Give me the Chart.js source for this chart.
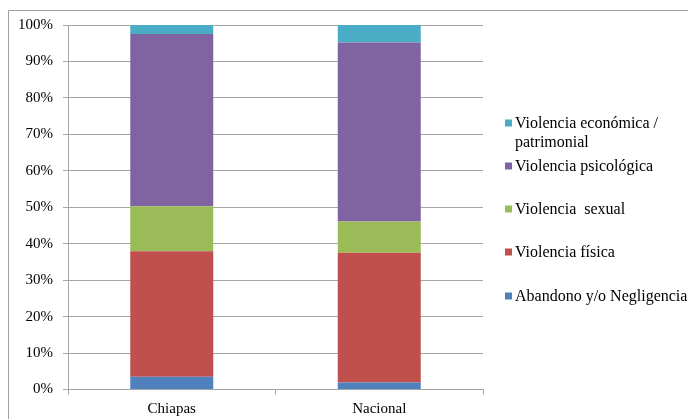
<!DOCTYPE html>
<html>
<head>
<meta charset="utf-8">
<script src="https://cdn.jsdelivr.net/npm/chart.js@4"></script>
<style>
  html, body { margin: 0; padding: 0; background: #fff; }
  #wrap { width: 688px; height: 419px; position: relative; }
</style>
</head>
<body>
<div id="wrap"><canvas id="chart" width="688" height="419"></canvas></div>
<script>
// Regions on the x axis
const regions = ['Chiapas', 'Nacional'];

// Share of each type of violence (%), bottom to top of the stack
const abandono = [3.5, 1.9];
const fisica = [34.4, 35.6];
const sexual = [12.4, 8.6];
const psicologica = [47.2, 49.1];
const economica = [2.5, 4.8];

const seriesNames = [
    'Abandono y/o Negligencia',
    'Violencia física',
    'Violencia  sexual',
    'Violencia psicológica',
    ['Violencia económica /', 'patrimonial']
];
const seriesColors = ['#4f81bd', '#c0504d', '#9bbb59', '#8064a2', '#4bacc6'];

const yTicks = [0, 10, 20, 30, 40, 50, 60, 70, 80, 90, 100];

const FONT = '"Liberation Serif", "Times New Roman", serif';
const GRID = '#a6a6a6';

// Legend drawn by hand on the right, top entry = last series
const sideLegend = {
    id: 'sideLegend',
    afterDraw(chart) {
        const ctx = chart.ctx;
        const rows = [123, 166, 209, 252, 296];
        ctx.save();
        ctx.font = '16px ' + FONT;
        ctx.textBaseline = 'middle';
        ctx.fillStyle = '#000';
        const sets = chart.data.datasets.slice().reverse();
        sets.forEach((ds, i) => {
            const y = rows[i];
            ctx.fillStyle = ds.backgroundColor;
            ctx.fillRect(505, y - 3.5, 7, 7);
            ctx.fillStyle = '#000';
            const lines = Array.isArray(ds.label) ? ds.label : [ds.label];
            lines.forEach((t, j) => ctx.fillText(t, 515, y + 1 + j * 19));
        });
        ctx.restore();
    }
};

// Thin frame around the whole chart
const frame = {
    id: 'frame',
    afterDraw(chart) {
        const ctx = chart.ctx;
        ctx.save();
        ctx.strokeStyle = '#a0a0a0';
        ctx.lineWidth = 1;
        ctx.beginPath();
        ctx.moveTo(8.5, 430);
        ctx.lineTo(8.5, 10.5);
        ctx.lineTo(700, 10.5);
        ctx.stroke();
        ctx.restore();
    }
};

const datasets = [abandono, fisica, sexual, psicologica, economica].map((vals, i) => ({
    label: seriesNames[i],
    data: vals,
    backgroundColor: seriesColors[i],
    borderWidth: 0,
    barPercentage: 0.4,
    categoryPercentage: 1
}));

new Chart(document.getElementById('chart').getContext('2d'), {
    type: 'bar',
    data: { labels: regions, datasets: datasets },
    plugins: [sideLegend, frame],
    options: {
        responsive: false,
        animation: false,
        layout: { padding: { top: 25, right: 205, bottom: 0, left: 0 } },
        plugins: {
            legend: { display: false },
            tooltip: { enabled: false }
        },
        scales: {
            x: {
                stacked: true,
                afterFit(scale) { scale.height = 29.5; },
                grid: {
                    display: true,
                    drawOnChartArea: false,
                    drawTicks: true,
                    tickLength: 5,
                    color: GRID
                },
                border: { color: GRID },
                ticks: {
                    color: '#000',
                    font: { family: FONT, size: 15 },
                    padding: 6
                }
            },
            y: {
                stacked: true,
                min: 0,
                max: 100,
                afterFit(scale) { scale.width = 68; },
                afterBuildTicks(scale) {
                    scale.ticks = yTicks.map(v => ({ value: v }));
                },
                grid: {
                    color: GRID,
                    tickLength: 5
                },
                border: { color: GRID },
                ticks: {
                    color: '#000',
                    font: { family: FONT, size: 15 },
                    padding: 10,
                    callback: v => v + '%'
                }
            }
        }
    }
});
</script>
</body>
</html>
